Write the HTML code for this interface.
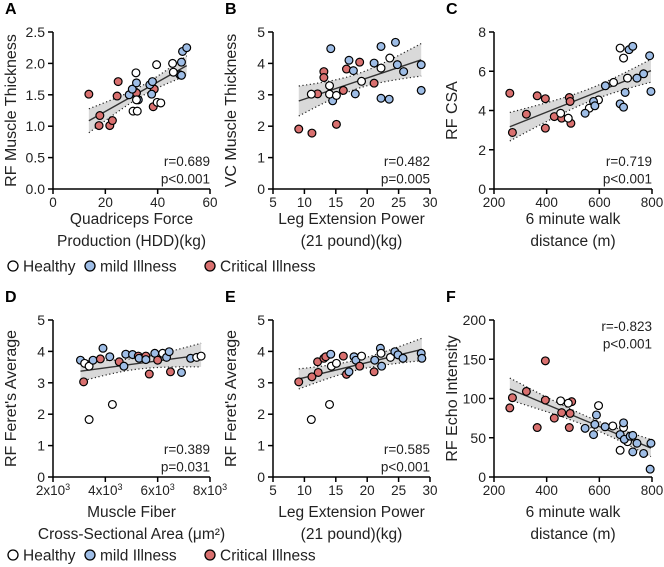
<!DOCTYPE html>
<html><head><meta charset="utf-8"><style>
body{margin:0;background:#fff;}
svg{display:block;font-family:"Liberation Sans",Arial,sans-serif;}
</style></head><body>
<svg id="fig" width="664" height="567" viewBox="0 0 664 567"></svg>
<script>
// Panel A: RF muscle thickness vs quadriceps force
const aX=[13.7,24.9,24.5,17.9,17.6,21.7,22.7,38.7,38.3,31.9,29.1,30.3,31.9,32.6,37.0,38.0,37.7,49.1,49.5,51.1,48.5,49.1,31.7,39.6,45.7,46.0,31.9,30.6,32.2,39.8,41.2];
const aY=[1.51,1.71,1.48,1.17,1.01,1.01,1.09,1.59,1.31,1.53,1.50,1.59,1.69,1.42,1.66,1.71,1.51,2.02,2.19,2.25,1.82,1.81,1.85,1.98,2.0,1.86,1.42,1.24,1.24,1.38,1.37];
const aG=['c','c','c','c','c','c','c','c','c','c','m','m','m','m','m','m','m','m','m','m','m','m','h','h','h','h','h','h','h','h','h'];
// Panel B: VC muscle thickness vs leg extension power
const bX=[9.1,11.2,12.1,13.1,13.1,15.1,16.2,16.7,18.8,21.1,14.2,14.5,17.1,17.8,18.1,21.1,22.2,22.2,23.5,24.5,24.8,25.8,28.6,28.6,11.1,14.0,14.0,15.1,19.1,22.2,23.6];
const bY=[1.91,1.78,3.03,3.74,3.55,2.06,3.14,3.82,4.04,3.37,4.47,2.81,4.10,3.77,3.03,4.01,4.54,2.89,2.86,4.67,3.96,3.74,3.96,3.14,3.02,3.29,3.02,2.98,3.43,3.85,4.17];
const bG=['c','c','c','c','c','c','c','c','c','c','m','m','m','m','m','m','m','m','m','m','m','m','m','m','h','h','h','h','h','h','h'];
// Panel C: RF CSA vs 6MWD
const cX=[260,270,323,364,395,395,429,457,486,489,492,453,482,562,597,654,679,692,707,546,578,583,623,679,692,698,713,727,743,768,791,796];
const cY=[4.88,2.88,3.81,4.75,4.60,3.10,3.69,3.61,4.66,4.46,3.35,3.86,3.61,4.12,4.54,5.43,7.18,6.67,5.65,3.86,4.46,4.24,5.26,4.34,4.17,4.92,7.10,7.27,5.65,5.87,6.79,4.97];
const cG=['c','c','c','c','c','c','c','c','c','c','c','h','h','h','h','h','h','h','h','m','m','m','m','m','m','m','m','m','m','m','m','m'];
// Panel D: Feret vs fiber CSA (x in thousands)
const dX=[3.05,3.21,3.38,3.53,3.91,4.17,3.17,3.38,4.27,3.81,4.53,4.71,4.78,5.04,5.26,5.29,5.55,5.55,5.68,5.89,6.00,6.19,6.34,6.44,6.49,6.91,7.26,7.49,7.66];
const dY=[3.72,3.62,3.53,3.72,4.10,3.83,3.03,1.83,2.31,3.76,3.67,3.53,3.91,3.90,3.85,3.78,3.85,3.74,3.28,3.94,3.72,3.94,3.81,3.99,3.35,3.33,3.78,3.81,3.85];
const dG=['m','h','h','m','m','m','c','h','h','c','c','m','m','m','c','m','c','m','c','m','c','h','m','m','c','m','m','h','h'];
// Panel E: Feret vs leg extension power
const eX=[9.1,11.2,12.2,12.1,13.1,13.4,14.2,14.3,15.1,16.2,16.7,17.1,17.9,18.2,19.1,18.8,21.1,21.2,22.1,22.3,22.2,23.7,24.4,24.9,25.7,28.6,28.7,11.1,14.0];
const eY=[3.03,3.19,3.33,3.67,3.78,3.83,3.91,3.53,3.62,3.85,3.27,3.35,3.83,3.72,3.85,3.53,3.35,3.72,4.10,3.53,3.94,3.81,3.99,3.89,3.78,3.94,3.78,1.83,2.31];
const eG=['c','c','c','c','c','c','m','h','h','c','c','m','m','m','h','c','c','m','m','m','h','h','m','m','m','m','m','h','h'];
// Panel F: echo intensity vs 6MWD
const fX=[260,270,323,364,395,395,429,457,489,495,486,453,482,597,651,692,679,707,546,578,583,589,622,679,692,695,717,727,727,743,768,796,793];
const fY=[88,101,109,63,148,98,75,82,81,96,63,97,94,91,65,63,34,45,62,54,67,79,64,54,69,48,52,53,32,43,30,43,10];
const fG=['c','c','c','c','c','c','c','c','c','c','c','h','h','h','h','h','h','h','m','m','m','m','m','m','m','m','m','m','m','m','m','m','m'];

const aTicks=[0,20,40,60], aYT=[0.0,0.5,1.0,1.5,2.0,2.5];
const bTicks=[5,10,15,20,25,30], bYT=[0,1,2,3,4,5];
const cTicks=[200,400,600,800], cYT=[0,2,4,6,8];
const dTicks=[2,4,6,8], dYT=[0,1,2,3,4,5];
const fYT=[0,50,100,150,200];

const NS='http://www.w3.org/2000/svg';
const svg=document.getElementById('fig');
function mk(tag,attrs,parent,text){const e=document.createElementNS(NS,tag);for(const k in attrs)e.setAttribute(k,attrs[k]);if(text!==undefined)e.textContent=text;(parent||svg).appendChild(e);return e;}
const COL={c:'#d9706f',m:'#9ebde6',h:'#ffffff'};

function panel(o){
  const g=mk('g',{});
  
  
  const sx=v=>o.x0+(v-o.xmin)/(o.xmax-o.xmin)*(o.x1-o.x0);
  const sy=v=>o.yb-(v-o.ymin)/(o.ymax-o.ymin)*(o.yb-o.yt);
  const n=o.xs.length;let mx=0,my=0;o.xs.forEach((v,i)=>{mx+=v;my+=o.ys[i];});mx/=n;my/=n;
  let sxx=0,sxy=0;o.xs.forEach((v,i)=>{sxx+=(v-mx)**2;sxy+=(v-mx)*(o.ys[i]-my);});
  const b=sxy/sxx,a=my-b*mx;let sse=0;o.xs.forEach((v,i)=>{sse+=(o.ys[i]-a-b*v)**2;});
  const s=Math.sqrt(sse/(n-2)),t=2.04;
  const lo=Math.min(...o.xs),hi=Math.max(...o.xs);
  const up=[],dn=[];
  for(let k=0;k<=40;k++){const x=lo+(hi-lo)*k/40;const h=t*s*Math.sqrt(1/n+(x-mx)**2/sxx);const y=a+b*x;up.push([sx(x),sy(y+h)]);dn.push([sx(x),sy(y-h)]);}
  const band=mk('path',{d:'M'+up.map(p=>p.join(',')).join('L')+'L'+dn.slice().reverse().map(p=>p.join(',')).join('L')+'Z',fill:'#d9d9d9'},g);
  
  
  const u=mk('path',{d:'M'+up.map(p=>p.join(',')).join('L'),fill:'none',stroke:'#222','stroke-width':1.2,'stroke-dasharray':'1.2,2.5'},g);
  
  
  const d=mk('path',{d:'M'+dn.map(p=>p.join(',')).join('L'),fill:'none',stroke:'#222','stroke-width':1.2,'stroke-dasharray':'1.2,2.5'},g);
  
  
  const rl=mk('line',{x1:sx(lo),y1:sy(a+b*lo),x2:sx(hi),y2:sy(a+b*hi),stroke:'#333','stroke-width':1.4},g);
  
  
  o.xs.forEach((v,i)=>{const c=mk('circle',{cx:sx(v),cy:sy(o.ys[i]),r:3.9,fill:COL[o.gs[i]],stroke:'#000','stroke-width':1.2},g);
    
    });
  const ya=mk('line',{x1:o.x0,y1:o.yt,x2:o.x0,y2:o.yb,stroke:'#000','stroke-width':1.5},g);
  
  
  const xa=mk('line',{x1:o.x0,y1:o.yb,x2:o.x1,y2:o.yb,stroke:'#000','stroke-width':1.5},g);
  
  
  o.yticks.forEach(v=>{mk('line',{x1:o.x0-5,y1:sy(v),x2:o.x0,y2:sy(v),stroke:'#000','stroke-width':1.5},g);
    const tl=mk('text',{x:o.x0-8,y:sy(v)+5,'text-anchor':'end','font-size':14,fill:'#222'},g,o.yfmt?o.yfmt(v):v);
    
    });
  o.xticks.forEach(v=>{mk('line',{x1:sx(v),y1:o.yb,x2:sx(v),y2:o.yb+5,stroke:'#000','stroke-width':1.5},g);
    const tl=mk('text',{x:sx(v),y:o.yb+18,'text-anchor':'middle','font-size':13.5,fill:'#222'},g);
    if(o.sci){tl.textContent=v+'x10';mk('tspan',{dy:-5,'font-size':9},tl,'3');}else tl.textContent=v;
    
    });
  const yt=mk('text',{transform:`translate(${o.x0-37},${(o.yt+o.yb)/2}) rotate(-90)`,'text-anchor':'middle','font-size':16,fill:'#222'},g,o.ytitle);
  
  
  o.xtitle.forEach((t,i)=>{const e=mk('text',{x:(o.x0+o.x1)/2,y:o.yb+o.xto+i*22,'text-anchor':'middle','font-size':15.5,fill:'#222'},g,t);
    
    });
  o.stats.forEach((t,i)=>{const e=mk('text',{x:o.x1,y:o.sy+i*17.5,'text-anchor':'end','font-size':13.5,fill:'#222'},g,t);
    
    });
  const L=mk('text',{x:o.x0-48,y:o.yt-18,'font-size':16,'font-weight':'bold',fill:'#000'},g,o.id);
  
  
}
const r1={yt:32,yb:189,xto:35},r2={yt:320,yb:477,xto:40};
panel({id:'A',x0:53,x1:210,...r1,xmin:0,xmax:60,ymin:0,ymax:2.5,xs:aX,ys:aY,gs:aG,xticks:aTicks,yticks:aYT,yfmt:v=>v.toFixed(1),ytitle:'RF Muscle Thickness',xtitle:['Quadriceps Force','Production (HDD)(kg)'],stats:['r=0.689','p<0.001'],sy:166});
panel({id:'B',x0:273,x1:430,...r1,xmin:5,xmax:30,ymin:0,ymax:5,xs:bX,ys:bY,gs:bG,xticks:bTicks,yticks:bYT,ytitle:'VC Muscle Thickness',xtitle:['Leg Extension Power','(21 pound)(kg)'],stats:['r=0.482','p=0.005'],sy:166});
panel({id:'C',x0:494,x1:652,...r1,xmin:200,xmax:800,ymin:0,ymax:8,xs:cX,ys:cY,gs:cG,xticks:cTicks,yticks:cYT,ytitle:'RF CSA',xtitle:['6 minute walk','distance (m)'],stats:['r=0.719','p<0.001'],sy:166});
panel({id:'D',x0:53,x1:210,...r2,xmin:2,xmax:8,ymin:0,ymax:5,xs:dX,ys:dY,gs:dG,xticks:dTicks,yticks:dYT,sci:true,ytitle:"RF Feret's Average",xtitle:['Muscle Fiber','Cross-Sectional Area (μm²)'],stats:['r=0.389','p=0.031'],sy:454});
panel({id:'E',x0:273,x1:430,...r2,xmin:5,xmax:30,ymin:0,ymax:5,xs:eX,ys:eY,gs:eG,xticks:bTicks,yticks:dYT,ytitle:"RF Feret's Average",xtitle:['Leg Extension Power','(21 pound)(kg)'],stats:['r=0.585','p<0.001'],sy:454});
panel({id:'F',x0:494,x1:652,...r2,xmin:200,xmax:800,ymin:0,ymax:200,xs:fX,ys:fY,gs:fG,xticks:cTicks,yticks:fYT,ytitle:'RF Echo Intensity',xtitle:['6 minute walk','distance (m)'],stats:['r=-0.823','p<0.001'],sy:331});

function legend(y){
  const g=mk('g',{});
  
  
  [[13,'h','Healthy'],[90,'m','mild Illness'],[210,'c','Critical Illness']].forEach(([x,k,t])=>{
    const c=mk('circle',{cx:x,cy:y,r:5,fill:COL[k],stroke:'#000','stroke-width':1.3},g);
    
    
    const e=mk('text',{x:x+10,y:y+5.5,'font-size':15.5,fill:'#222'},g,t);
    
    
  });
}
legend(266);legend(555);
</script>
</body></html>
